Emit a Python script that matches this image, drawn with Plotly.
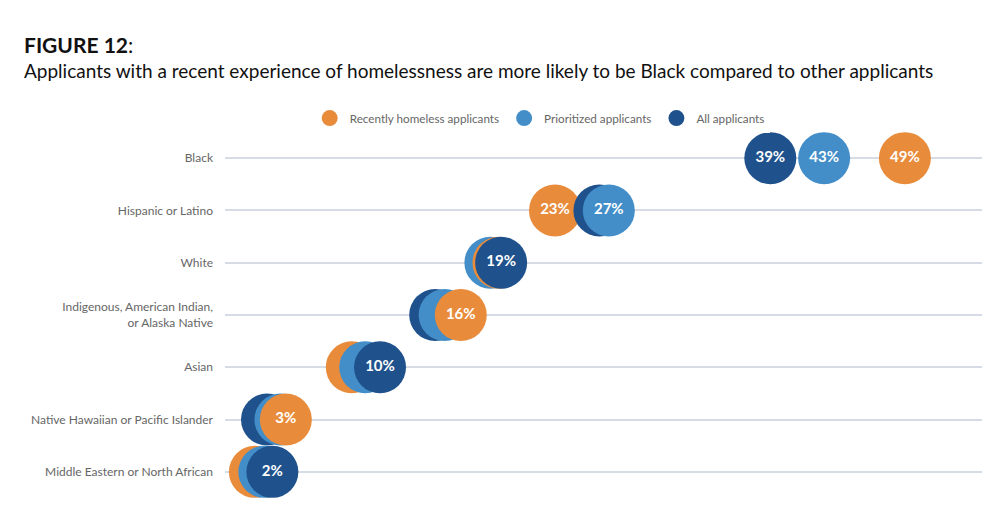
import plotly.graph_objects as go

# Share of each applicant group by race / ethnicity (percent)
categories = [
    "Black",
    "Hispanic or Latino",
    "White",
    "Indigenous, American Indian,<br>or Alaska Native",
    "Asian",
    "Native Hawaiian or Pacific Islander",
    "Middle Eastern or North African",
]
recent_homeless = [49, 23, 18.8, 16, 7.9, 3, 0.7]
prioritized = [43, 27, 18.2, 14.8, 8.9, 2.6, 1.4]
all_applicants = [39, 26.3, 19, 14.1, 10, 1.6, 2]

# which bubbles carry a visible label (the others are mostly hidden behind a neighbour)
recent_labelled = [True, True, False, True, False, True, False]
prioritized_labelled = [True, True, False, False, False, False, False]
all_labelled = [True, False, True, False, True, False, True]

series = [
    ("Recently homeless applicants", recent_homeless, recent_labelled, "#E88C3C"),
    ("Prioritized applicants", prioritized, prioritized_labelled, "#438EC8"),
    ("All applicants", all_applicants, all_labelled, "#1F528C"),
]

FONT = "Lato"

fig = go.Figure()

# Draw bubbles in layers: smallest value of each row at the back, largest on top
for rank in range(3):
    xs, ys, cols, texts = [], [], [], []
    for i, cat in enumerate(categories):
        row = sorted(
            [(vals[i], show[i], col) for _, vals, show, col in series],
            key=lambda t: t[0],
        )
        v, show, col = row[rank]
        xs.append(v)
        ys.append(cat)
        cols.append(col)
        texts.append(f"{round(v)}%" if show else "")
    fig.add_trace(go.Scatter(
        x=xs, y=ys, mode="markers+text", text=texts,
        textposition="middle center",
        textfont=dict(family=FONT, size=15, color="white", weight="bold"),
        marker=dict(size=52, color=cols, line=dict(width=0)),
        cliponaxis=False, showlegend=False, hoverinfo="skip",
    ))

# Legend entries only
for name, _, _, col in series:
    fig.add_trace(go.Scatter(
        x=[None], y=[None], mode="markers", name=name,
        marker=dict(size=22, color=col),
    ))

fig.add_annotation(
    text="<b>FIGURE 12</b>:", x=0.0141, y=1.238, xref="paper", yref="paper",
    xanchor="left", yanchor="middle", showarrow=False,
    font=dict(family=FONT, size=21, color="#111111"),
)
fig.add_annotation(
    text="Applicants with a recent experience of homelessness are more likely to be Black compared to other applicants",
    x=0.0141, y=1.169, xref="paper", yref="paper",
    xanchor="left", yanchor="middle", showarrow=False,
    font=dict(family=FONT, size=19, color="#111111"),
)

# page body adds an 8px margin, so the figure is sized to fit inside the window
fig.update_layout(
    width=992, height=505,
    margin=dict(l=0, r=0, t=124, b=15),
    paper_bgcolor="white", plot_bgcolor="white",
    font=dict(family=FONT, size=12, color="#666666"),
    legend=dict(orientation="h", x=0.536, xanchor="center", y=1.038, yanchor="middle",
                font=dict(size=11.7, color="#666666")),
    xaxis=dict(domain=[0.21875, 0.98185], range=[-1.52, 54.73], visible=False),
    yaxis=dict(
        type="category", categoryorder="array", categoryarray=categories,
        range=[6.5, -0.5], showgrid=True, gridcolor="#D5DCE5", gridwidth=1.5,
        zeroline=False, showline=False, ticks="", ticklabelstandoff=11,
        tickfont=dict(size=12, color="#666666"),
    ),
)

fig.write_html("out.html")
